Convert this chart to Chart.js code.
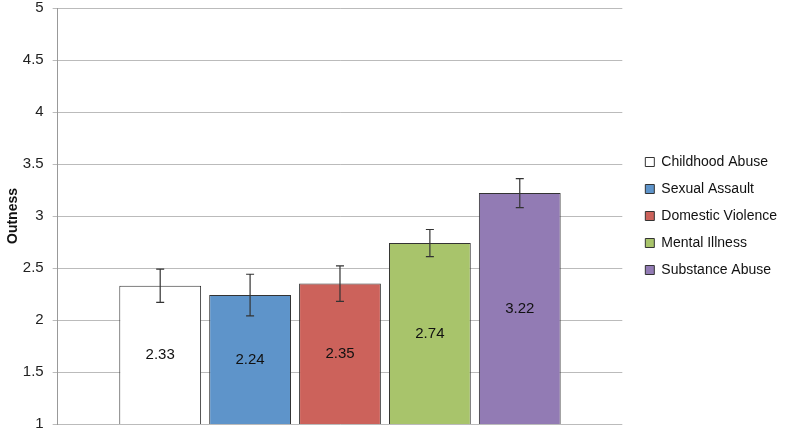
<!DOCTYPE html>
<html>
<head>
<meta charset="utf-8">
<script src="https://cdn.jsdelivr.net/npm/chart.js@4/dist/chart.umd.min.js"></script>
<style>
  html, body { margin: 0; padding: 0; background: #fff; }
  #wrap { width: 785px; height: 435px; }
</style>
</head>
<body>
<div id="wrap"><canvas id="chart" width="785" height="435"></canvas></div>
<script>
// categories and values
var categories = ['Childhood Abuse', 'Sexual Assault', 'Domestic Violence', 'Mental Illness', 'Substance Abuse'];
var means = [2.33, 2.24, 2.35, 2.74, 3.22];
var errors = [0.16, 0.20, 0.17, 0.13, 0.14];
var colors = ['#ffffff', '#5e94ca', '#cc625b', '#a8c46b', '#927bb4'];

// error bars drawn from the y scale
var errorBars = {
    id: 'errorBars',
    afterDatasetsDraw: function (chart) {
        var ctx = chart.ctx;
        var y = chart.scales.y;
        ctx.save();
        ctx.strokeStyle = '#333';
        ctx.lineWidth = 1.2;
        chart.data.datasets.forEach(function (ds, i) {
            var bar = chart.getDatasetMeta(i).data[0];
            var top = y.getPixelForValue(means[i] + errors[i]);
            var bot = y.getPixelForValue(means[i] - errors[i]);
            ctx.beginPath();
            ctx.moveTo(bar.x, top); ctx.lineTo(bar.x, bot);
            ctx.moveTo(bar.x - 4, top); ctx.lineTo(bar.x + 4, top);
            ctx.moveTo(bar.x - 4, bot); ctx.lineTo(bar.x + 4, bot);
            ctx.stroke();
        });
        ctx.restore();
    }
};

// value labels in the middle of each bar
var valueLabels = {
    id: 'valueLabels',
    afterDatasetsDraw: function (chart) {
        var ctx = chart.ctx;
        var y = chart.scales.y;
        ctx.save();
        ctx.font = '15px "Liberation Sans", Arial, sans-serif';
        ctx.fillStyle = '#111';
        ctx.textAlign = 'center';
        ctx.textBaseline = 'middle';
        chart.data.datasets.forEach(function (ds, i) {
            var bar = chart.getDatasetMeta(i).data[0];
            var mid = (y.getPixelForValue(means[i]) + chart.chartArea.bottom) / 2;
            ctx.fillText(means[i].toFixed(2), bar.x, mid);
        });
        ctx.restore();
    }
};

// push the legend a bit away from the plot area
var legendShift = {
    id: 'legendShift',
    afterLayout: function (chart) {
        chart.legend.left += 10;
        chart.legend.right += 10;
    }
};

var datasets = categories.map(function (name, i) {
    return {
        label: name,
        data: [means[i]],
        backgroundColor: colors[i],
        borderColor: '#333',
        borderWidth: 1,
        barPercentage: 0.91,
        categoryPercentage: 0.796
    };
});

new Chart(document.getElementById('chart').getContext('2d'), {
    type: 'bar',
    data: { labels: [''], datasets: datasets },
    plugins: [errorBars, valueLabels, legendShift],
    options: {
        responsive: false,
        animation: false,
        layout: { padding: { top: 8, right: 8, bottom: 11, left: 3 } },
        plugins: {
            tooltip: { enabled: false },
            legend: {
                position: 'right',
                labels: {
                    boxWidth: 9,
                    boxHeight: 9,
                    padding: 13,
                    color: '#111',
                    font: { size: 14, family: '"Liberation Sans", Arial, sans-serif' }
                }
            }
        },
        scales: {
            x: {
                display: false
            },
            y: {
                min: 1,
                max: 5,
                afterFit: function (scale) {
                    scale.paddingTop = 0;
                    scale.paddingBottom = 0;
                },
                ticks: {
                    stepSize: 0.5,
                    color: '#222',
                    padding: 9,
                    font: { size: 15, lineHeight: 1, family: '"Liberation Sans", Arial, sans-serif' },
                    callback: function (v) { return String(v); }
                },
                grid: { color: '#bbb', tickLength: 5 },
                border: { color: '#999' },
                title: {
                    display: true,
                    text: 'Outness',
                    color: '#111',
                    padding: { top: 2, bottom: -8 },
                    font: { size: 14, weight: 'bold', family: '"Liberation Sans", Arial, sans-serif' }
                }
            }
        }
    }
});
</script>
</body>
</html>
